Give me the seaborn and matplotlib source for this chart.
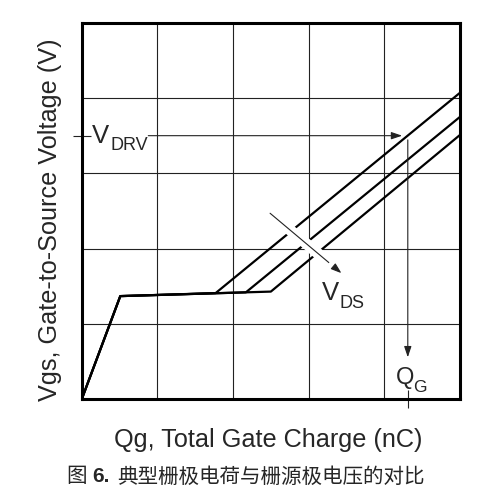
import matplotlib
matplotlib.use("Agg")
import matplotlib.pyplot as plt
import matplotlib.patheffects as pe
import seaborn as sns
import pandas as pd

# ---- data ----
qg_curve1 = [0.0, 0.51, 1.77, 5.00]
vgs_curve1 = [0.0, 1.37, 1.41, 4.07]
qg_curve2 = [0.0, 0.51, 2.17, 5.00]
vgs_curve2 = [0.0, 1.37, 1.42, 3.75]
qg_curve3 = [0.0, 0.51, 2.50, 5.00]
vgs_curve3 = [0.0, 1.37, 1.43, 3.51]
curve_names = ["c1", "c2", "c3"]
grid_ticks = [1, 2, 3, 4]
v_drv = 3.5          # drive voltage level
q_g = 4.31           # total gate charge at V_DRV
vds_arrow_start = (2.49, 2.47)
vds_arrow_end = (3.435, 1.673)

x_label = "Qg, Total Gate Charge (nC)"
y_label = "Vgs, Gate-to-Source Voltage (V)"
caption_fig = "图"
caption_num = "6."
caption_text = "典型栅极电荷与栅源极电压的对比"

df = pd.concat([
    pd.DataFrame({"qg": qg_curve1, "vgs": vgs_curve1, "curve": curve_names[0]}),
    pd.DataFrame({"qg": qg_curve2, "vgs": vgs_curve2, "curve": curve_names[1]}),
    pd.DataFrame({"qg": qg_curve3, "vgs": vgs_curve3, "curve": curve_names[2]}),
], ignore_index=True)

# ---- style ----
sns.set_style("white")
plt.rcParams["font.family"] = ["Liberation Sans", "Noto Sans CJK SC", "DejaVu Sans"]

W, H = 493, 504
fig = plt.figure(figsize=(W / 100, H / 100), dpi=100)
ax = fig.add_axes([81.7 / W, 1 - 399.3 / H, 378.3 / W, 376.6 / H])

sns.lineplot(data=df, x="qg", y="vgs", units="curve", estimator=None, sort=False,
             color="black", lw=1.6, ax=ax, legend=False)

ax.set_xlim(0, 5)
ax.set_ylim(0, 5)
ax.set_xlabel("")
ax.set_ylabel("")

# grid on minor ticks, marker ticks for V_DRV and Q_G
ax.set_xticks([q_g])
ax.set_yticks([v_drv])
ax.set_xticklabels([])
ax.set_yticklabels([])
ax.set_xticks(grid_ticks, minor=True)
ax.set_yticks(grid_ticks, minor=True)
ax.tick_params(which="major", direction="inout", length=12.5, width=0.8,
               color="#222222", bottom=True, left=True)
ax.tick_params(which="minor", length=0)
ax.grid(which="minor", color="#222222", lw=0.8)
ax.grid(which="major", visible=False)

for s in ax.spines.values():
    s.set_linewidth(2.2)
    s.set_color("black")
    s.set_visible(True)

astyle = "-|>,head_length=0.65,head_width=0.22"
aprops = dict(arrowstyle=astyle, mutation_scale=10, lw=0.8, color="#222222",
              shrinkA=0, shrinkB=0)

# V_DRV arrow
ax.annotate("", xy=(4.235, v_drv), xytext=(0.88, v_drv), arrowprops=aprops)
# Q_G arrow
ax.annotate("", xy=(q_g, 0.558), xytext=(q_g, 3.444), arrowprops=aprops)
# V_DS arrow with white gap
vds = ax.annotate("", xy=vds_arrow_end, xytext=vds_arrow_start, arrowprops=aprops)
vds.arrow_patch.set_path_effects([pe.Stroke(linewidth=8, foreground="white"), pe.Normal()])


def ftext(x, y, s, **kw):
    kw.setdefault("va", "baseline")
    return fig.text(x / W, 1 - y / H, s, **kw)


ftext(91.5, 143.3, "V", fontsize=18.5)
ftext(110.5, 150.5, "DRV", fontsize=13)
ftext(321.5, 299.5, "V", fontsize=18.5)
ftext(339.5, 308, "DS", fontsize=13)
ftext(395.5, 384, "Q", fontsize=17)
ftext(413.5, 392.5, "G", fontsize=12.5)

ftext(268.4, 447, x_label, fontsize=18.2, ha="center")
fig.text(56.7 / W, 1 - 220 / H, y_label, fontsize=18.2, rotation=90,
         rotation_mode="anchor", ha="center", va="baseline")

ftext(66, 482.5, caption_fig, fontsize=14.8, family=["Noto Sans CJK SC"])
ftext(92.5, 482.5, caption_num, fontsize=15, fontweight="bold")
ftext(117, 482.5, caption_text, fontsize=14.8, family=["Noto Sans CJK SC"])

fig.savefig("out.png", dpi=100)
